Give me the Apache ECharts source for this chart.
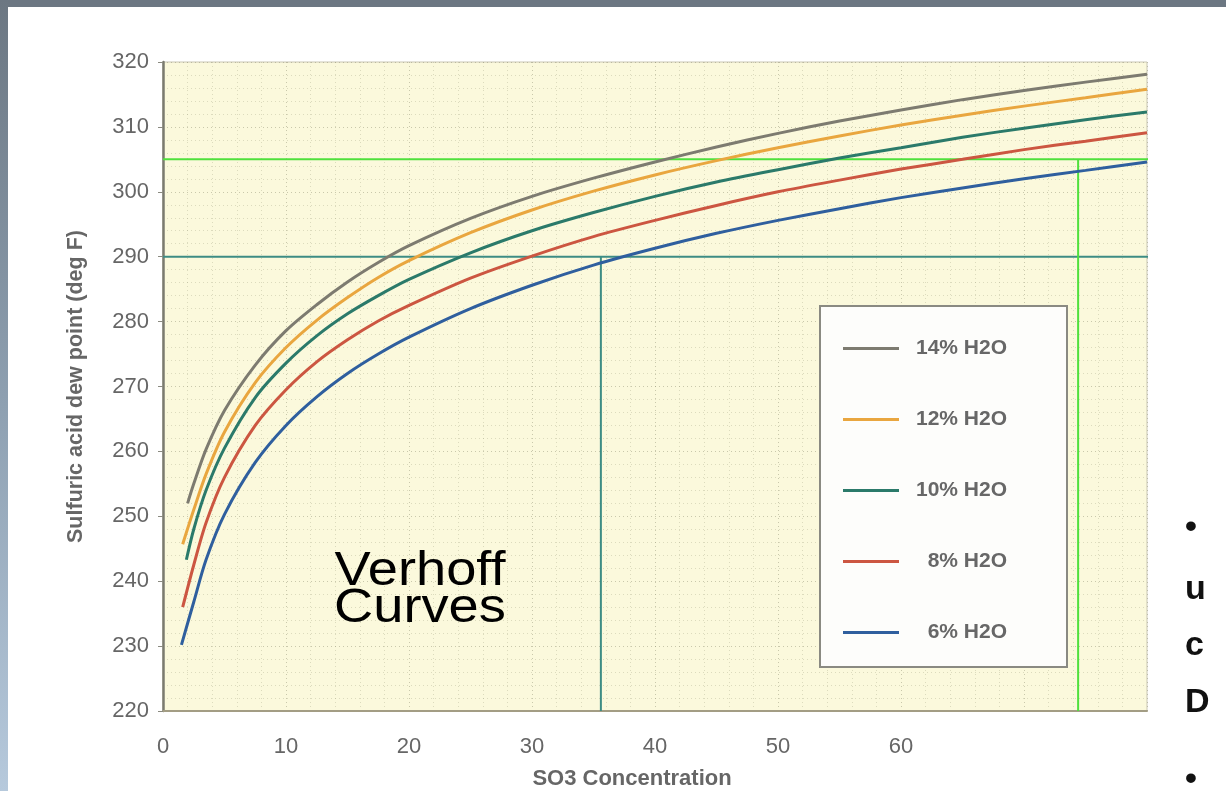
<!DOCTYPE html>
<html>
<head>
<meta charset="utf-8">
<script src="https://cdn.jsdelivr.net/npm/echarts@6/dist/echarts.min.js"></script>
<style>
  html, body { margin: 0; padding: 0; width: 1226px; height: 791px; overflow: hidden; background: #ffffff; }
  #topbar { position: absolute; left: 0; top: 0; width: 1226px; height: 7px; background: #6c7782; }
  #leftbar { position: absolute; left: 0; top: 0; width: 8px; height: 791px; background: linear-gradient(#6c7782, #8d9fb0 50%, #b6c9dc); }
  #chart { position: absolute; left: 0; top: 0; width: 1226px; height: 791px; }
  .side { position: absolute; left: 1185px; font-family: 'Liberation Sans', Arial, sans-serif; font-weight: bold; font-size: 34px; color: #111; white-space: nowrap; }
</style>
</head>
<body>
<div id="chart"></div>
<div id="topbar"></div>
<div id="leftbar"></div>
<div class="side" style="top:506px">•</div>
<div class="side" style="top:568px">u</div>
<div class="side" style="top:624px">c</div>
<div class="side" style="top:681px">D</div>
<div class="side" style="top:758px">•</div>
<script>
// ---- data ----
const seriesNames = ['14% H2O', '12% H2O', '10% H2O', '8% H2O', '6% H2O'];
const seriesColors = ['#7d7b70', '#e9a63f', '#2b7a6a', '#cc5641', '#2f5f9e'];
const startSO3 = [2.0, 1.6, 1.9, 1.6, 1.5];
const startDew = [252, 245.7, 243.3, 236, 230.2];
const so3 = [2.5, 3.5, 5, 7.5, 10, 12.5, 15, 17.5, 20, 25, 30, 35, 40, 45, 50, 55, 60, 65, 70, 75, 80];
const dew14 = [255, 260.3, 266.3, 273.3, 278.6, 282.6, 286.1, 289.1, 291.7, 295.9, 299.3, 302.1, 304.6, 306.9, 309.0, 310.9, 312.6, 314.2, 315.6, 316.9, 318.1];
const dew12 = [251, 256.5, 263, 270.6, 276, 280.2, 283.7, 286.8, 289.4, 293.7, 297.2, 300.1, 302.6, 304.8, 306.8, 308.6, 310.3, 311.8, 313.2, 314.5, 315.8];
const dew10 = [248, 254, 260.5, 268.3, 273.6, 277.8, 281.2, 284, 286.5, 290.6, 294, 296.8, 299.3, 301.5, 303.4, 305.2, 306.8, 308.4, 309.8, 311.1, 312.3];
const dew8  = [242.5, 249, 256, 264, 269.5, 273.8, 277.2, 280.1, 282.5, 286.7, 290.1, 293.1, 295.6, 297.9, 300, 301.8, 303.5, 305, 306.5, 307.8, 309.1];
const dew6  = [236.8, 243.3, 250.3, 258.3, 264, 268.4, 272, 275, 277.6, 282, 285.6, 288.7, 291.3, 293.6, 295.6, 297.4, 299.1, 300.6, 302, 303.3, 304.6];
const refDew = [305, 290];          // horizontal guide lines (deg F)
const refSO3 = [74.4, 35.6];        // vertical guide lines (SO3)
const yTicks = [220, 230, 240, 250, 260, 270, 280, 290, 300, 310, 320];
const xTickLabels = ['0', '10', '20', '30', '40', '50', '60'];

const dewSets = [dew14, dew12, dew10, dew8, dew6];
const font = "'Liberation Sans', Arial, sans-serif";
const labelColor = '#666666';

const curveSeries = dewSets.map((d, i) => ({
  name: seriesNames[i],
  type: 'line',
  smooth: 0.3,
  showSymbol: false,
  z: 5,
  lineStyle: { color: seriesColors[i], width: 3 },
  itemStyle: { color: seriesColors[i] },
  data: [[startSO3[i], startDew[i]]].concat(so3.map((x, j) => [x, d[j]]))
}));

const guideSeries = [
  { type: 'line', silent: true, clip: false, showSymbol: false, z: 3,
    lineStyle: { color: '#4fe03d', width: 2 }, data: [[0, refDew[0]], [80.9, refDew[0]]] },
  { type: 'line', silent: true, clip: false, showSymbol: false, z: 3,
    lineStyle: { color: '#3d8c84', width: 2 }, data: [[0, refDew[1]], [80.2, refDew[1]]] },
  { type: 'line', silent: true, showSymbol: false, z: 3,
    lineStyle: { color: '#4fe03d', width: 2 }, data: [[refSO3[0], 220], [refSO3[0], refDew[0]]] },
  { type: 'line', silent: true, showSymbol: false, z: 3,
    lineStyle: { color: '#3d8c84', width: 2 }, data: [[refSO3[1], 220], [refSO3[1], refDew[1]]] }
];

const titleStyle = { font: '48px "Liberation Sans", Arial, sans-serif', fill: '#000',
  textAlign: 'center', textVerticalAlign: 'middle',
  textShadowColor: '#a9a9a9', textShadowOffsetX: 2, textShadowOffsetY: 2, textShadowBlur: 0 };

const chart = echarts.init(document.getElementById('chart'), null, { renderer: 'canvas' });
chart.setOption({
  animation: false,
  backgroundColor: 'transparent',
  grid: { left: 163, top: 62, width: 984, height: 649, containLabel: false, outerBoundsMode: 'none',
    show: true, backgroundColor: '#fbf9dc', borderColor: '#c9c6b4', borderWidth: 1 },
  xAxis: {
    type: 'value', min: 0, max: 80, interval: 10,
    name: 'SO3 Concentration', nameLocation: 'middle', nameGap: 57,
    nameTextStyle: { fontFamily: font, fontWeight: 'bold', fontSize: 22, color: labelColor, padding: [0, 46, 0, 0] },
    axisLine: { show: true, lineStyle: { color: '#a39d84', width: 2 } },
    axisTick: { show: false },
    axisLabel: { margin: 25, fontFamily: font, fontSize: 22, color: labelColor,
      formatter: v => (xTickLabels.indexOf(String(v)) >= 0 ? String(v) : '') },
    splitLine: { show: true, lineStyle: { type: [1, 3], color: 'rgba(140,140,110,0.45)' } },
    minorTick: { show: false, splitNumber: 5 },
    minorSplitLine: { show: true, lineStyle: { type: [1, 3], color: 'rgba(150,150,120,0.3)' } }
  },
  yAxis: {
    type: 'value', min: 220, max: 320, interval: 10,
    name: 'Sulfuric acid dew point (deg F)', nameLocation: 'middle', nameGap: 76, nameRotate: 90,
    nameTextStyle: { fontFamily: font, fontWeight: 'bold', fontSize: 21.5, color: labelColor },
    axisLine: { show: true, lineStyle: { color: '#7b7b70', width: 2.5 } },
    axisTick: { show: true, length: 5, lineStyle: { color: '#8a8a80' } },
    axisLabel: { margin: 14, fontFamily: font, fontSize: 22, color: labelColor,
      formatter: v => (yTicks.indexOf(v) >= 0 ? String(v) : '') },
    splitLine: { show: true, lineStyle: { type: [1, 3], color: 'rgba(140,140,110,0.45)' } },
    minorTick: { show: false, splitNumber: 5 },
    minorSplitLine: { show: true, lineStyle: { type: [1, 3], color: 'rgba(150,150,120,0.3)' } }
  },
  legend: {
    data: seriesNames,
    orient: 'vertical',
    left: 838, top: 333,
    itemWidth: 56, itemHeight: 3,
    itemGap: 50,
    icon: 'rect',
    selectedMode: false,
    formatter: n => (n.length < 7 ? '  ' + n : n),
    textStyle: { fontFamily: font, fontWeight: 'bold', fontSize: 21, color: '#676767', lineHeight: 21, padding: [0, 0, 0, 12] }
  },
  graphic: [
    { type: 'rect', z: 1, shape: { x: 820, y: 306, width: 247, height: 361 },
      style: { fill: '#fdfdfb', stroke: '#8a8a82', lineWidth: 2 } },
    { type: 'text', z: 10, x: 420, y: 572, scaleX: 1.13, style: Object.assign({ text: 'Verhoff' }, titleStyle) },
    { type: 'text', z: 10, x: 420, y: 609, scaleX: 1.13, style: Object.assign({ text: 'Curves' }, titleStyle) }
  ],
  series: guideSeries.concat(curveSeries)
});
</script>
</body>
</html>
